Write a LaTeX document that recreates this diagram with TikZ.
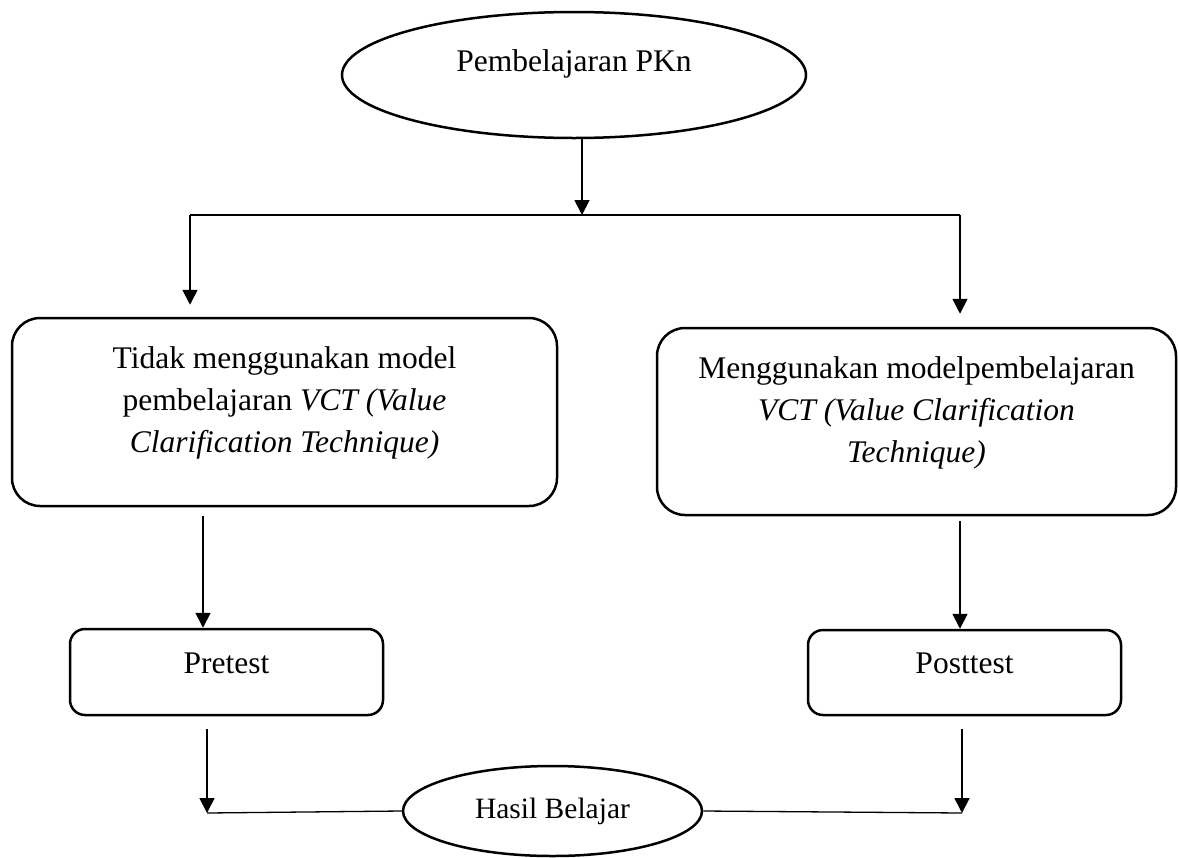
\documentclass[tikz,border=0pt]{standalone}
\usepackage{fontspec}
\setmainfont{Liberation Serif}
\usetikzlibrary{shapes.geometric,arrows.meta}
\tikzset{
  boxline/.style={draw=black, line width=2.5pt, inner sep=0pt},
  bigbox/.style={boxline, rectangle, rounded corners=28pt},
  smallbox/.style={boxline, rectangle, rounded corners=15pt},
  ellip/.style={boxline, ellipse},
  txt/.style={inner sep=0pt, align=center, font=\fontsize{31.5pt}{42pt}\selectfont, anchor=base},
  smalltxt/.style={inner sep=0pt, font=\fontsize{29.5pt}{36pt}\selectfont, anchor=base},
  arr/.style={draw=black, line width=1.8pt, -{Triangle[length=15pt,width=15pt]}},
  plain/.style={draw=black, line width=1.3pt},
}
\begin{document}
\begin{tikzpicture}[x=1pt,y=-1pt]
\fill[white] (0,0) rectangle (1178,857);
\useasboundingbox (0,0) rectangle (1178,857);

% shapes
\node[ellip, minimum width=464pt, minimum height=126pt] (pkn) at (574,75) {};
\node[txt] (pkntxt) at (574,71) {Pembelajaran PKn};

\node[bigbox, minimum width=545pt, minimum height=188pt] (boxL) at (284.5,412) {};
\node[txt] (boxLtxt) at (284.5,452) {Tidak menggunakan model\\pembelajaran \textit{VCT (Value}\\\textit{Clarification Technique)}};

\node[bigbox, minimum width=519pt, minimum height=187pt] (boxR) at (916.5,421.5) {};
\node[txt] (boxRtxt) at (916.5,462) {Menggunakan modelpembelajaran\\\textit{VCT (Value Clarification}\\\textit{Technique)}};

\node[smallbox, minimum width=313pt, minimum height=86pt] (pre) at (226.5,672) {};
\node[txt] (pretxt) at (226.5,673) {Pretest};

\node[smallbox, minimum width=313pt, minimum height=85pt] (post) at (964.5,672.5) {};
\node[txt] (posttxt) at (964.5,673) {Posttest};

\node[ellip, minimum width=299pt, minimum height=90pt] (hasil) at (552.5,811) {};
\node[smalltxt] (hasiltxt) at (552.5,818) {Hasil Belajar};

% connector points
\coordinate (split) at (582,215);
\coordinate (bl) at (190,215);
\coordinate (br) at (960,215);
\coordinate (ml) at (203,0);
\coordinate (mr) at (960,0);
\coordinate (cl) at (207,813);
\coordinate (cr) at (962,813);

% connectors
\draw[arr] (split |- pkn.south) -- (split);
\draw[plain] (bl) -- (br);
\draw[arr, shorten >=12pt] (bl) -- (bl |- boxL.north);
\draw[arr, shorten >=13pt] (br) -- (br |- boxR.north);
\draw[arr, shorten <=9pt] (ml |- boxL.south) -- (ml |- pre.north);
\draw[arr, shorten <=5pt] (mr |- boxR.south) -- (mr |- post.north);
\draw[arr, shorten <=13pt] (cl |- pre.south) -- (cl);
\draw[arr, shorten <=13pt] (cr |- post.south) -- (cr);
\draw[plain] (cl) -- (hasil.west);
\draw[plain] (hasil.east) -- (cr);
\end{tikzpicture}
\end{document}
